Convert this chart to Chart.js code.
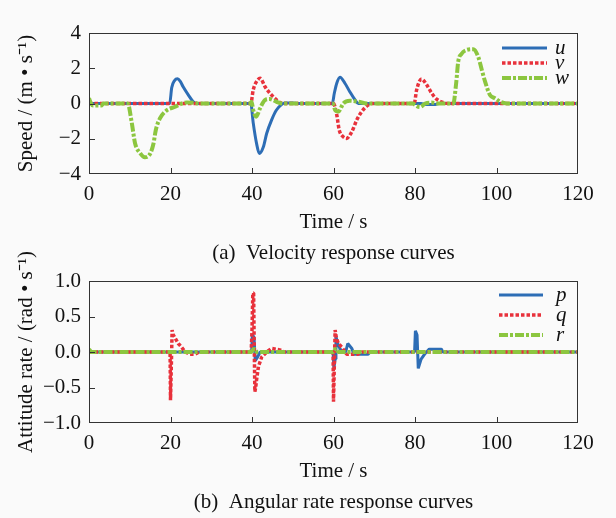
<!DOCTYPE html>
<html lang="en">
<head>
<meta charset="UTF-8" />
<title>Velocity and angular rate response curves</title>
<script src="https://cdn.jsdelivr.net/npm/chart.js"></script>
<style>
  body { margin:0; background:#fafafa; }
  #wrap { position:relative; width:616px; height:518px; }
  canvas { position:absolute; left:0; }
</style>
</head>
<body>
<div id="wrap">
  <canvas id="velChart" width="616" height="280" style="top:0"></canvas>
  <canvas id="rateChart" width="616" height="280" style="top:238px"></canvas>
</div>

<script>
// ---- data: [time (s), value] ----
// (a) velocity, m/s
const uPts = [[0,0],[19.8,0],[20.3,0.9],[21,1.3],[21.7,1.4],[22.4,1.25],[23.1,0.95],[24.4,0.48],[25.6,0.1],[26.5,0],
  [39.7,0],[40.3,-1.1],[41.1,-2.25],[41.8,-2.83],[42.8,-2.45],[43.6,-1.7],[44.8,-0.94],[46,-0.37],[47.3,-0.05],[48,0.03],[50,0.03],[51,0],
  [59.7,0],[60.2,0.58],[60.8,1.15],[61.6,1.49],[62.8,1.15],[64,0.67],[65.3,0.2],[66.1,0],
  [81.5,0],[82.5,-0.05],[85,-0.05],[86,0],[120,0]];
const vPts = [[0,0],[39.7,0],[40.3,0.77],[41.1,1.24],[42,1.43],[43.2,0.95],[44.4,0.58],[45.6,0.3],[46.9,0.05],[48,0],
  [60,0],[60.8,-0.65],[61.4,-1.5],[62.4,-1.89],[63.2,-1.98],[64.5,-1.6],[65.7,-0.94],[66.9,-0.47],[68.2,-0.14],[69.4,0],
  [79.8,0],[80.4,0.77],[81.6,1.39],[82.9,1.05],[84.1,0.58],[85.3,0.25],[87,0.05],[88,0],[120,0]];
const wPts = [[0,0.3],[0.5,0],[1,-0.12],[3,-0.12],[3.5,0],[9.5,0],[10.5,-1.1],[11.3,-2.25],[12.5,-2.8],[13.7,-3.05],[15,-2.85],
  [15.8,-2.3],[16.4,-1.5],[17.4,-0.85],[19,-0.4],[21,-0.2],[22.8,0],[24,0.05],[26,0.03],[27,0],
  [39.5,0],[39.9,0.1],[40.3,-0.37],[41,-0.75],[42,-0.26],[43.2,0.2],[44.4,0.25],[46,0.1],[47.6,0],
  [59.8,0],[60.4,-0.37],[61.2,-0.46],[62.4,0],[64,0.16],[66.1,0.1],[68.2,0],
  [79.5,0],[80,-0.08],[81.2,-0.2],[82.5,0],[84,0.05],[86,0],
  [89.4,0],[90.1,1.15],[90.6,2.37],[91.4,2.81],[92.7,3.04],[94.3,3.08],[95.5,2.66],[96.4,1.9],[97.2,1.24],[98.4,0.48],
  [99.6,0.3],[100.9,0.1],[102.5,0],[120,0]];

// (b) angular rate, rad/s
const pPts = [[0,0],[39.9,0],[40.1,0.25],[40.5,0.2],[40.8,-0.12],[41.3,-0.08],[42,0],
  [59.9,0],[60.1,-0.23],[60.4,-0.1],[60.6,0.22],[61,0.12],[62,0],[63,0],[63.5,0.12],[64.5,0.05],[65,-0.03],[68.5,-0.03],[69,0],
  [79.9,0],[80.1,0.3],[80.5,0.24],[80.8,-0.23],[81.5,-0.1],[82.5,-0.02],[83.5,0.04],[86.5,0.04],[86.8,0],[120,0]];
const qPts = [[0,0],[19.9,0],[20,-0.68],[20.2,-0.2],[20.4,0.31],[20.6,0.25],[21.1,0.2],[21.9,0.12],[22.7,0.07],[23.6,0],[24.8,-0.03],[26,-0.03],[27,0],
  [39.8,0],[40,0.3],[40.2,0.83],[40.4,0.83],[40.5,0.3],[40.7,-0.56],[40.9,-0.5],[41.1,-0.4],[41.6,-0.2],[42.4,-0.07],[43.6,0],[44.8,0.05],[46.8,0.03],[48,0],
  [59.9,0],[60,-0.7],[60.2,-0.2],[60.4,0.31],[60.7,0.2],[61.2,0.12],[62,0.07],[63.2,-0.03],[66,-0.03],[67,0],[120,0]];
const rPts = [[0,0.04],[0.5,0],[39.8,0],[40.5,0.05],[41.2,0],[59.9,0],[60.5,0.05],[61.2,0],[120,0]];

const velLabels  = ['u', 'v', 'w'];
const rateLabels = ['p', 'q', 'r'];

// ---- colours / line styles ----
const BLUE = '#2d6db5', RED = '#e8313b', GREEN = '#8cc63f';
const styles = [
  { color: BLUE,  dash: [],           width: 3,   order: 2 },
  { color: RED,   dash: [3.5, 2],     width: 3.5, order: 1 },
  { color: GREEN, dash: [9, 2, 3, 2], width: 4,   order: 0 }
];

const FS = 21;
Chart.defaults.font.family = "'Liberation Serif', 'Times New Roman', serif";
Chart.defaults.font.size = FS;
Chart.defaults.color = '#111';

const minus = s => s.replace('-', '\u2212');

// frame box, inward ticks and in-plot legend
const frameAndLegend = {
  id: 'frameAndLegend',
  afterDatasetsDraw(chart, args, lg) {
    const { ctx, chartArea: a, scales } = chart;
    ctx.save();
    ctx.strokeStyle = '#333';
    ctx.lineWidth = 1;
    ctx.strokeRect(a.left + 0.5, a.top + 0.5, a.right - a.left - 1, a.bottom - a.top - 1);
    ctx.beginPath();
    scales.x.ticks.forEach(t => {
      const px = Math.round(scales.x.getPixelForValue(t.value)) + 0.5;
      if (px <= a.left + 2 || px >= a.right - 2) return;
      ctx.moveTo(px, a.bottom); ctx.lineTo(px, a.bottom - 6);
    });
    scales.y.ticks.forEach(t => {
      const py = Math.round(scales.y.getPixelForValue(t.value)) + 0.5;
      if (py <= a.top + 2 || py >= a.bottom - 2) return;
      ctx.moveTo(a.left, py); ctx.lineTo(a.left + 6, py);
    });
    ctx.stroke();

    chart.data.datasets.forEach((ds, i) => {
      const y = a.top + lg.y0 + i * lg.dy;
      ctx.beginPath();
      ctx.setLineDash(ds.borderDash);
      ctx.strokeStyle = ds.borderColor;
      ctx.lineWidth = ds.borderWidth;
      ctx.moveTo(a.right - lg.x0, y);
      ctx.lineTo(a.right - lg.x1, y);
      ctx.stroke();
      ctx.setLineDash([]);
      ctx.fillStyle = '#111';
      ctx.font = "italic " + FS + "px 'Liberation Serif'";
      ctx.textBaseline = 'middle';
      ctx.fillText(ds.label, a.right - lg.tx, y);
    });
    ctx.restore();
  }
};

function makeChart(id, series, labels, cfg) {
  const datasets = series.map((pts, i) => ({
    label: labels[i],
    data: pts.map(([x, y]) => ({ x, y })),
    borderColor: styles[i].color,
    borderDash: styles[i].dash,
    borderWidth: styles[i].width,
    borderJoinStyle: 'bevel',
    order: styles[i].order,
    pointRadius: 0,
    fill: false,
    tension: cfg.tension,
    cubicInterpolationMode: cfg.tension ? 'monotone' : 'default'
  }));

  return new Chart(document.getElementById(id), {
    type: 'line',
    data: { datasets },
    plugins: [frameAndLegend],
    options: {
      responsive: false,
      animation: false,
      events: [],
      layout: { padding: cfg.padding },
      scales: {
        x: {
          type: 'linear', min: 0, max: 120,
          ticks: { stepSize: 20, padding: 8 },
          grid: { display: false, drawTicks: false },
          border: { display: false },
          // axis title plus the panel caption below it, centred on the plot
          title: {
            display: true, text: ['Time / s', cfg.caption],
            font: { size: FS, lineHeight: 31 / FS },
            padding: { top: 0, bottom: cfg.capPad }
          },
          afterFit: s => { s.height = cfg.xHeight; }
        },
        y: {
          min: cfg.yMin, max: cfg.yMax,
          ticks: { stepSize: cfg.yStep, padding: 8, callback: cfg.fmt },
          grid: { display: false, drawTicks: false },
          border: { display: false },
          title: { display: true, text: cfg.yTitle, padding: { top: 14, bottom: 0 } },
          afterFit: s => { s.width = 89; }
        }
      },
      plugins: {
        legend: { display: false },
        tooltip: { enabled: false },
        frameAndLegend: cfg.legend
      }
    }
  });
}

makeChart('velChart', [uPts, vPts, wPts], velLabels, {
  tension: 0.3,
  padding: { top: 33, right: 38, bottom: 10, left: 0 },
  xHeight: 96, capPad: 1,
  yMin: -4, yMax: 4, yStep: 2,
  fmt: v => minus(String(v)),
  yTitle: 'Speed / (m \u2022 s\u207B\u00B9)',
  caption: '(a)  Velocity response curves',
  legend: { x0: 76, x1: 31, tx: 23, y0: 15, dy: 15 }
});

makeChart('rateChart', [pPts, qPts, rPts], rateLabels, {
  tension: 0,
  padding: { top: 43, right: 38, bottom: 0, left: 0 },
  xHeight: 95, capPad: 0,
  yMin: -1, yMax: 1, yStep: 0.5,
  fmt: v => minus(v.toFixed(1)),
  yTitle: 'Attitude rate / (rad \u2022 s\u207B\u00B9)',
  caption: '(b)  Angular rate response curves',
  legend: { x0: 79, x1: 35, tx: 22, y0: 14, dy: 20 }
});
</script>
</body>
</html>
